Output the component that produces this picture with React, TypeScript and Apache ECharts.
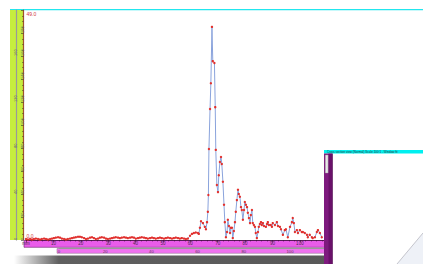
import React, { useEffect, useRef } from "react";
import * as echarts from "echarts";

// Profile samples: position along scan (mm) and intensity
const positionsMm = [
  0.0, 0.7, 1.5, 2.2, 2.9, 3.6, 4.4, 5.1, 5.8, 6.6,
  7.3, 8.0, 8.8, 9.5, 10.2, 10.9, 11.7, 12.4, 13.1, 13.9,
  14.6, 15.3, 16.1, 16.8, 17.5, 18.2, 19.0, 19.7, 20.4, 21.2,
  21.9, 22.6, 23.4, 24.1, 24.8, 25.5, 26.3, 27.0, 27.7, 28.5,
  29.2, 29.9, 30.7, 31.4, 32.1, 32.8, 33.6, 34.3, 35.0, 35.8,
  36.5, 37.2, 38.0, 38.7, 39.4, 40.1, 40.9, 41.6, 42.3, 43.1,
  43.8, 44.5, 45.3, 46.0, 46.7, 47.4, 48.2, 48.9, 49.6, 50.4,
  51.1, 51.8, 52.6, 53.3, 54.0, 54.7, 55.5, 56.2, 56.9, 57.7,
  58.4, 59.1,
  59.9, 60.6, 61.3, 62.0, 62.8, 63.1, 63.5, 63.9, 64.6, 65.3,
  65.7, 66.1, 66.4, 66.6, 66.8, 67.2, 67.5, 67.9, 68.2, 68.8,
  69.1, 69.3, 69.7, 70.1, 70.4, 70.8, 71.2, 71.5, 71.9, 72.3,
  72.6, 73.0, 73.4, 73.7, 74.1, 74.5, 74.8, 75.2, 75.5, 75.9,
  76.3, 76.6, 77.0, 77.4, 77.7, 78.1, 78.5, 78.8, 79.2, 79.6,
  79.9, 80.3, 80.7, 81.0, 81.4, 81.8, 82.1, 82.5, 82.8, 83.2,
  83.6, 83.9, 84.3, 84.7, 85.0, 85.4, 85.8, 86.1, 86.5, 86.9,
  87.6, 88.0, 88.3, 88.7, 89.4, 89.8, 90.1, 90.9, 91.6, 92.0,
  92.7, 93.1, 93.8, 94.5, 94.9, 95.6, 96.4, 97.1, 97.4, 97.8,
  98.2, 98.9, 99.3, 100.0, 100.7, 101.1, 101.8, 102.6, 102.9, 103.6,
  104.4, 104.7, 105.5, 106.2, 106.6, 107.3, 108.0,
];

const intensity = [
  0.2, 0.1, 0.2, 0.1, 0.2, 0.3, 0.2, 0.1, 0.2, 0.3,
  0.2, 0.1, 0.2, 0.3, 0.4, 0.5, 0.6, 0.5, 0.3, 0.2,
  0.1, 0.2, 0.3, 0.4, 0.5, 0.6, 0.7, 0.7, 0.6, 0.4,
  0.2, 0.3, 0.5, 0.6, 0.4, 0.2, 0.3, 0.5, 0.6, 0.5,
  0.3, 0.2, 0.3, 0.4, 0.5, 0.6, 0.5, 0.4, 0.5, 0.6,
  0.5, 0.4, 0.5, 0.6, 0.5, 0.3, 0.4, 0.5, 0.6, 0.5,
  0.4, 0.3, 0.4, 0.5, 0.4, 0.3, 0.4, 0.5, 0.4, 0.3,
  0.4, 0.5, 0.4, 0.3, 0.4, 0.5, 0.4, 0.3, 0.4, 0.3,
  0.2, 0.3,
  0.9, 1.3, 1.5, 1.6, 1.5, 1.3, 2.6, 4.0, 3.6, 2.8,
  2.3, 3.8, 6.0, 9.6, 19.4, 27.9, 33.4, 45.4, 38.1, 37.7,
  28.3, 19.2, 11.7, 10.2, 13.8, 16.6, 17.7, 16.2, 12.4, 7.5,
  3.8, 0.6, 1.7, 4.3, 3.0, 1.5, 2.6, 2.6, 0.4, 1.9,
  3.8, 6.0, 8.5, 10.7, 9.8, 9.2, 7.0, 6.4, 4.3, 6.4,
  8.1, 7.5, 7.0, 5.8, 4.7, 3.6, 5.3, 6.4, 3.6, 3.2,
  2.8, 1.5, 0.4, 1.7, 2.8, 3.4, 3.8, 3.2, 3.6, 3.0,
  2.8, 3.4, 3.8, 3.2, 3.2, 2.8, 3.6, 3.2, 3.8, 3.0,
  2.8, 2.3, 1.1, 2.1, 2.3, 0.6, 2.8, 3.8, 4.7, 3.6,
  1.7, 2.1, 1.5, 2.1, 1.7, 1.7, 1.5, 1.1, 0.6, 1.1,
  0.6, 0.4, 0.6, 1.7, 2.1, 1.5, 0.6,
];

const yMaxLabel = "49.0";
const yMinLabel = "0.0";
const insetTitle = "Cross section view (Normal) Scale 100:1 - Window fit";

export default function App() {
  const ref = useRef<HTMLDivElement>(null);

  useEffect(() => {
    if (!ref.current) return;
    const chart = echarts.init(ref.current, undefined, { renderer: "svg" });
    const points = positionsMm.map((x, i) => [x, intensity[i]]);
    const font = "Liberation Sans";

    chart.setOption({
      animation: false,
      backgroundColor: "#ffffff",
      grid: [
        { left: 26, right: 93, top: 10, bottom: 24, outerBoundsMode: "none", containLabel: false },
        { left: 59, right: 93, top: 246.5, height: 2, outerBoundsMode: "none", containLabel: false },
      ],
      xAxis: [
        {
          type: "value",
          gridIndex: 0,
          min: 0,
          max: 111,
          interval: 10,
          position: "bottom",
          axisLine: { show: true, lineStyle: { color: "#5a1a5a", width: 1 } },
          axisTick: { show: true, length: 2.5, lineStyle: { color: "#3a0a3a", width: 0.6 } },
          minorTick: { show: true, splitNumber: 5, length: 1.5, lineStyle: { color: "#3a0a3a", width: 0.5 } },
          splitLine: { show: false },
          axisLabel: {
            show: true,
            fontSize: 4.5,
            fontFamily: font,
            color: "#4a2a4a",
            margin: 1,
            showMaxLabel: false,
            formatter: (v: number) => (v === 0 ? "mm" : String(v)),
          },
        },
        {
          type: "value",
          gridIndex: 1,
          min: 0,
          max: 117.3,
          interval: 20,
          position: "bottom",
          axisLine: { show: true, lineStyle: { color: "#9a9a9a", width: 1 } },
          axisTick: { show: false },
          splitLine: { show: false },
          axisLabel: {
            show: true,
            fontSize: 4.2,
            fontFamily: font,
            color: "#5a3a5a",
            margin: 0.5,
            showMaxLabel: false,
          },
        },
      ],
      yAxis: [
        {
          type: "value",
          gridIndex: 0,
          min: 0,
          max: 49,
          show: false,
        },
        {
          type: "value",
          gridIndex: 0,
          min: 0,
          max: 200,
          interval: 20,
          position: "left",
          offset: 2.5,
          axisLine: { show: true, lineStyle: { color: "#a0522d", width: 1.2 } },
          axisTick: { show: true, length: 2.5, lineStyle: { color: "#333", width: 0.6 } },
          minorTick: { show: true, splitNumber: 4, length: 1.5, lineStyle: { color: "#333", width: 0.5 } },
          splitLine: { show: false },
          axisLabel: {
            show: true,
            rotate: 90,
            fontSize: 4,
            fontFamily: font,
            color: "#666",
            margin: 1.5,
            align: "left",
            verticalAlign: "middle",
            showMaxLabel: false,
          },
        },
        {
          type: "value",
          gridIndex: 0,
          min: 0,
          max: 200,
          interval: 40,
          position: "left",
          offset: 9.5,
          axisLine: { show: true, lineStyle: { color: "#9a9a9a", width: 1.2 } },
          axisTick: { show: false },
          splitLine: { show: false },
          axisLabel: {
            show: true,
            rotate: 90,
            fontSize: 4,
            fontFamily: font,
            color: "#666",
            margin: 1.5,
            align: "left",
            verticalAlign: "middle",
            showMaxLabel: false,
          },
        },
        {
          type: "value",
          gridIndex: 1,
          min: 0,
          max: 1,
          show: false,
        },
      ],
      series: [
        {
          type: "line",
          xAxisIndex: 0,
          yAxisIndex: 0,
          data: points,
          showSymbol: true,
          symbol: "circle",
          symbolSize: 2.4,
          lineStyle: { color: "#8aa3dc", width: 1 },
          itemStyle: { color: "#e3302c" },
          z: 3,
        },
      ],
      graphic: [
        { type: "line", z: -1, shape: { x1: 10, y1: 9.6, x2: 423, y2: 9.6 }, style: { stroke: "#22e6ee", lineWidth: 1.4 } },
        { type: "rect", z: -1, shape: { x: 10, y: 10, width: 6, height: 230 }, style: { fill: "#c6ee3e" } },
        { type: "rect", z: -1, shape: { x: 17, y: 10, width: 6, height: 230 }, style: { fill: "#c6ee3e" } },
        { type: "rect", z: -1, shape: { x: 24, y: 240.5, width: 310, height: 6.8 }, style: { fill: "#ea5cea", stroke: "#6a206a", lineWidth: 0.6 } },
        { type: "rect", z: -1, shape: { x: 57, y: 248.5, width: 277, height: 4.8 }, style: { fill: "#ef72ef", stroke: "#a080a0", lineWidth: 0.6 } },
        {
          type: "rect",
          z: -1,
          shape: { x: 14, y: 255.5, width: 320, height: 9 },
          style: {
            fill: new echarts.graphic.LinearGradient(0, 0, 1, 0, [
              { offset: 0, color: "#ffffff" },
              { offset: 0.14, color: "#606060" },
              { offset: 1, color: "#585858" },
            ]),
          },
        },
        { type: "text", z: 5, x: 26.5, y: 238, style: { text: yMinLabel, fontSize: 5, fontFamily: font, fill: "#d03a3a", verticalAlign: "bottom" } },
        { type: "text", z: 5, x: 26.5, y: 11, style: { text: yMaxLabel, fontSize: 5, fontFamily: font, fill: "#d03a3a", verticalAlign: "top" } },
        { type: "rect", z: 100, shape: { x: 324, y: 150, width: 99, height: 114 }, style: { fill: "#ffffff" } },
        { type: "polygon", z: 100, shape: { points: [[397, 264], [423, 233], [423, 264]] }, style: { fill: "#eef1f7" } },
        { type: "line", z: 101, shape: { x1: 397, y1: 264, x2: 423, y2: 233 }, style: { stroke: "#b8b8c0", lineWidth: 0.8 } },
        { type: "rect", z: 101, shape: { x: 324, y: 150, width: 99, height: 3.6 }, style: { fill: "#00f0f0" } },
        { type: "text", z: 102, x: 327, y: 151.8, style: { text: insetTitle, fontSize: 3, fontFamily: font, fill: "#333", verticalAlign: "middle" } },
        { type: "rect", z: 101, shape: { x: 324, y: 153.6, width: 8.5, height: 111 }, style: { fill: "#7e1a7e" } },
        { type: "rect", z: 102, shape: { x: 328.5, y: 153.6, width: 3.5, height: 111 }, style: { fill: "#6a106a" } },
        { type: "rect", z: 103, shape: { x: 325.3, y: 155, width: 2.8, height: 18 }, style: { fill: "#e8e8e8", stroke: "#999", lineWidth: 0.4 } },
        { type: "line", z: 103, shape: { x1: 332.5, y1: 153.6, x2: 332.5, y2: 264 }, style: { stroke: "#4a0a4a", lineWidth: 0.6 } },
      ],
    });

    return () => chart.dispose();
  }, []);

  return (
    <div
      ref={ref}
      style={{ position: "absolute", left: 0, top: 0, width: 423, height: 264, background: "#fff" }}
    />
  );
}
